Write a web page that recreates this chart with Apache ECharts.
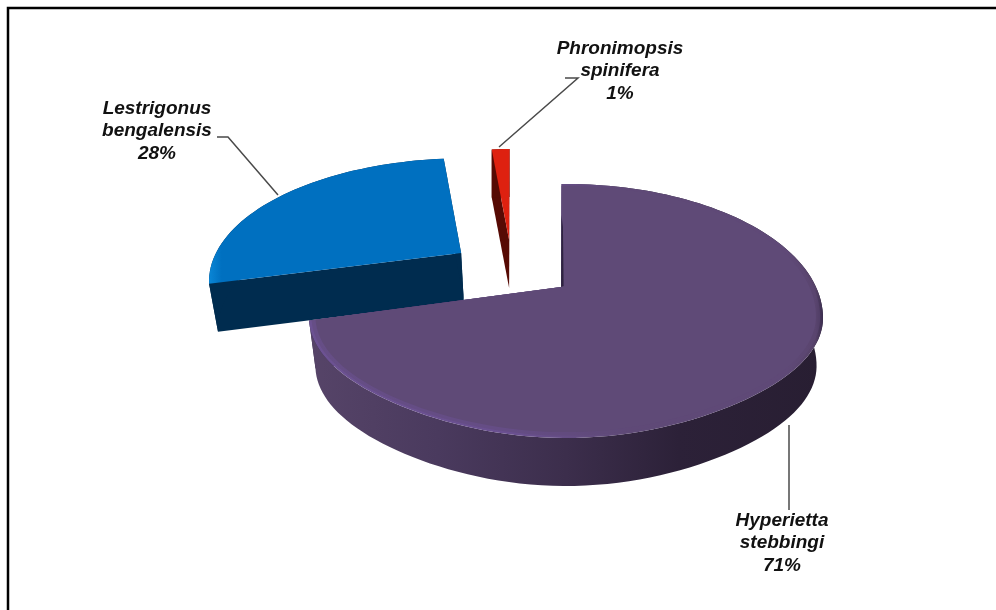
<!DOCTYPE html>
<html><head><meta charset="utf-8">
<style>html,body{margin:0;padding:0;background:#fff}#c{width:996px;height:610px}</style>
<script src="https://cdn.jsdelivr.net/npm/echarts@6/dist/echarts.min.js"></script>
</head><body><div id="c"></div>
<script>
// ---- data ----
var speciesNames = ['Hyperietta\nstebbingi', 'Lestrigonus\nbengalensis', 'Phronimopsis\nspinifera'];
var sharePercent = [70.9, 27.7, 1.4];

// ---- layout (pixels / disk units, not data) ----
var disk = {cx: 566, cy: 318, rx: 257, ryBack: 134, ryFront: 112, frontBulge: 8, apex: [-0.019, 0.231]};
var wallDepth = 48;
var pieceLayout = [
  {shift: [0, 0], squash: 1, wallX: 0.975},
  {shift: [-100, -34], squash: 0.92, wallX: 0.975},
  {shift: [-52, -47], squash: 0.884, wallX: 1}
];
var pieceStyle = [
  {face: '#5F4A77', wall: {type:'linear',x:0,y:0,x2:1,y2:0,global:false,colorStops:[
      {offset:0,color:'#564468'},{offset:0.25,color:'#4A3A5E'},{offset:0.5,color:'#3C2E4C'},
      {offset:0.72,color:'#2C2138'},{offset:1,color:'#281E32'}]},
   edge: {type:'linear',x:0,y:0,x2:1,y2:0,global:false,colorStops:[
      {offset:0,color:'#6C5292'},{offset:0.4,color:'#6A5090'},{offset:0.62,color:'#5F4A77'},{offset:0.93,color:'#5F4A77'},{offset:0.985,color:'#564268'},{offset:1,color:'#3C2E50'}]},
   side: '#2E2340'},
  {face: {type:'linear',x:0,y:0,x2:1,y2:0,global:false,colorStops:[
      {offset:0,color:'#0A86D6'},{offset:0.05,color:'#0070C0'},{offset:1,color:'#0070C0'}]},
   wall: '#002C4F', side: '#002C4F'},
  {face: '#DE2110', wall: '#560A04', side: '#560A04'}
];
var labelLayout = [
  {x: 782, y: 543, line: [[789,425],[789,510]]},
  {x: 157, y: 131, line: [[217,137],[228,137],[278,195]]},
  {x: 620, y: 71, line: [[565,78],[578,78],[499,147]]}
];

var total = sharePercent.reduce(function(a,b){return a+b;},0);

function project(X, Y) {
  var b = disk.apex, b2 = b[0]*b[0]+b[1]*b[1], g = 1/Math.sqrt(1-b2);
  var dot = b[0]*X+b[1]*Y, t = g*(1+dot), k = (g-1)*dot/b2+g;
  var u = (X+k*b[0])/t, v = (Y+k*b[1])/t;
  var ry = v>0 ? disk.ryBack : disk.ryFront+disk.frontBulge*v*v*v*v;
  return [disk.cx+disk.rx*u, disk.cy-v*ry];
}
function place(p, lay) {
  var a = project(0, 0);
  return [p[0]+lay.shift[0], a[1]+lay.shift[1]+(p[1]-a[1])*lay.squash];
}
function lower(p, xs) {
  return [disk.cx+(p[0]-disk.cx)*xs, p[1]+wallDepth];
}
function rimPoints(a0, a1, lay, r) {
  var pts = [], n = Math.max(2, Math.ceil((a1-a0)/2));
  for (var i=0;i<=n;i++) {
    var d = (a0+(a1-a0)*i/n)*Math.PI/180;
    pts.push(place(project(r*Math.sin(d), r*Math.cos(d)), lay));
  }
  return pts;
}
function renderPiece(params) {
  var i = params.dataIndex, lay = pieceLayout[i], st = pieceStyle[i];
  var before = 0; for (var j=0;j<i;j++) before += sharePercent[j];
  var a0 = before/total*360, a1 = (before+sharePercent[i])/total*360;
  var rim = rimPoints(a0, a1, lay, 1);
  var apex = place(project(0, 0), lay);
  var low = rim.map(function(p){return lower(p, lay.wallX);}), lowApex = lower(apex, lay.wallX);
  var base = i===0 ? 30 : (i===1 ? 10 : 20);
  var kids = [];
  function poly(points, fill, z, opacity) {
    kids.push({type:'polygon', z2: base+z, shape:{points:points},
      style:{fill:fill, opacity: opacity==null?1:opacity}, silent:true});
  }
  poly([rim[0], apex, lowApex, low[0]], st.side, 0);
  poly([rim[rim.length-1], apex, lowApex, low[low.length-1]], st.side, 0);
  poly(rim.concat(low.slice().reverse()), st.wall, 1);
  if (i===0) {
    poly(rim.concat([apex]), st.edge, 2);
    poly(rimPoints(a0, a1, lay, 0.99).concat([apex]), st.face, 3, 0.45);
    poly(rimPoints(a0, a1, lay, 0.975).concat([apex]), st.face, 3);
    var t = rim[0];
    var m = [t[0]+(apex[0]-t[0])*0.3, t[1]+(apex[1]-t[1])*0.3];
    poly([m, apex, [apex[0]+2.5, apex[1]-1], [m[0]+1.5, m[1]+12]], st.side, 4);
  } else {
    poly(rim.concat([apex]), st.face, 2);
  }
  var lb = labelLayout[i];
  kids.push({type:'polyline', z2: 50, shape:{points:lb.line}, style:{fill:null, stroke:'#4a4a4a', lineWidth:1.5}, silent:true});
  kids.push({type:'text', z2: 60, style:{
    x: lb.x, y: lb.y, text: speciesNames[i]+'\n'+Math.round(sharePercent[i])+'%',
    align:'center', verticalAlign:'middle', fill:'#111',
    font:'italic bold 19px "Liberation Sans", Arial, sans-serif', lineHeight:22.5}, silent:true});
  return {type:'group', children:kids};
}

var chart = echarts.init(document.getElementById('c'), null, {renderer:'canvas'});
chart.setOption({
  animation:false,
  backgroundColor:'#fff',
  graphic:[
    {type:'polyline', shape:{points:[[8,610],[8,8],[996,8]]}, style:{fill:null, stroke:'#000', lineWidth:2.5}, silent:true}
  ],
  series:[{type:'custom', coordinateSystem:'none', clip:false, data:sharePercent, renderItem:renderPiece}]
});
</script></body></html>
